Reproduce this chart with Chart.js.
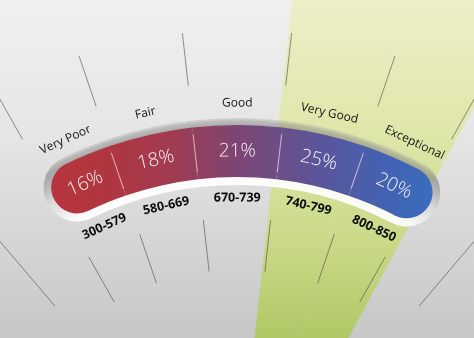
<!DOCTYPE html>
<html>
<head>
<meta charset="utf-8">
<script src="https://cdn.jsdelivr.net/npm/chart.js@4.4.1/dist/chart.umd.min.js"></script>
<style>
html,body{margin:0;padding:0;}
body{width:474px;height:338px;overflow:hidden;position:relative;
  background:linear-gradient(180deg,#f0f0f0 0%,#e5e5e5 40%,#c7c7c7 100%);}
canvas{position:absolute;left:0;top:0;}
</style>
</head>
<body>
<canvas id="wedge" width="474" height="338"></canvas>
<canvas id="rim" width="474" height="338"></canvas>
<canvas id="band" width="474" height="338"></canvas>
<script>
// ---------- data ----------
const categories   = ['Very Poor', 'Fair', 'Good', 'Very Good', 'Exceptional'];
const scoreRanges  = ['300-579', '580-669', '670-739', '740-799', '800-850'];
const sharePercent = [16, 18, 21, 25, 20];
const arcSpanDeg   = [10.8, 12.4, 13.1, 12.4, 12.4];   // angular width of each band segment
const highlighted  = [false, false, false, true, true];

// ---------- layout / style ----------
const LAYOUT = {
  cx: 237, cy: 520,            // centre of the gauge arc
  wedgeCx: 230, wedgeCy: 556,  // apex of the green highlight wedge
  bandStart: -29.7,
  bandOuter: 395, bandInner: 343,
  rimOuter: 402, rimInner: 335, rimExtra: 1.2,
  wedgeStart: 6.4, wedgeSpan: 22.1, wedgeRadius: 640
};
const DECOR = {
  tickAngles: [-40.4, -29.4, -18.8, -6.4, 6.4, 18.8, 29.4, 40.4],
  upper: [437, 490], lower: [250, 302], lowerWide: [281, 390]
};

function makeOptions(extra) {
  return Object.assign({
    responsive: false, animation: false, events: [], devicePixelRatio: 1,
    plugins: { legend: { display: false }, tooltip: { enabled: false } },
    layout: { padding: { left: 0, right: 0, top: 0, bottom: 0 } }
  }, extra);
}

function centreChart(chart, tx, ty) {
  const el = chart.getDatasetMeta(0).data[0];
  const dx = tx - el.x, dy = ty - el.y;
  const p = { left: 0, right: 0, top: 0, bottom: 0 };
  if (dx > 0) p.left = 2 * dx; else p.right = -2 * dx;
  if (dy > 0) p.top = 2 * dy; else p.bottom = -2 * dy;
  chart.options.layout = { padding: p };
  chart.update('none');
}
const rad = d => d * Math.PI / 180;

// ---------- green highlight wedge ----------
const wCanvas = document.getElementById('wedge');
const wGrad = wCanvas.getContext('2d').createLinearGradient(0, 0, 0, 338);
wGrad.addColorStop(0, '#ecefc7');
wGrad.addColorStop(0.4, '#dfe6a9');
wGrad.addColorStop(0.7, '#cbda89');
wGrad.addColorStop(1, '#b0c866');
const wedgeData = arcSpanDeg.filter((v, i) => highlighted[i]);
const wedgeChart = new Chart(wCanvas, {
  type: 'doughnut',
  data: { labels: categories.filter((v, i) => highlighted[i]),
          datasets: [{ data: wedgeData, backgroundColor: wGrad, borderWidth: 0, clip: false }] },
  options: makeOptions({
    rotation: LAYOUT.wedgeStart, circumference: LAYOUT.wedgeSpan,
    radius: LAYOUT.wedgeRadius, cutout: 0
  })
});
centreChart(wedgeChart, LAYOUT.wedgeCx, LAYOUT.wedgeCy);

// ---------- rim behind the band + radial tick lines ----------
const rCanvas = document.getElementById('rim');
const rGrad = rCanvas.getContext('2d').createRadialGradient(LAYOUT.cx, LAYOUT.cy, LAYOUT.rimInner, LAYOUT.cx, LAYOUT.cy, LAYOUT.rimOuter);
rGrad.addColorStop(0, 'rgba(255,255,255,0.95)');
rGrad.addColorStop(0.12, 'rgba(255,255,255,0.88)');
rGrad.addColorStop(0.5, 'rgba(215,215,215,0.7)');
rGrad.addColorStop(0.88, 'rgba(120,120,120,0.55)');
rGrad.addColorStop(0.95, 'rgba(140,140,140,0.5)');
rGrad.addColorStop(1, 'rgba(185,185,185,0.4)');
const bandTotal = arcSpanDeg.reduce((a, b) => a + b, 0);
const tickPlugin = {
  id: 'ticks',
  beforeDatasetsDraw(chart) {
    const el = chart.getDatasetMeta(0).data[0];
    const ctx = chart.ctx;
    ctx.save();
    ctx.strokeStyle = 'rgba(60,60,60,0.55)';
    ctx.lineWidth = 1;
    DECOR.tickAngles.forEach(a => {
      const t = rad(a - 90);
      const ranges = [DECOR.upper, Math.abs(a) > 35 ? DECOR.lowerWide : DECOR.lower];
      ranges.forEach(([r0, r1]) => {
        ctx.beginPath();
        ctx.moveTo(el.x + r0 * Math.cos(t), el.y + r0 * Math.sin(t));
        ctx.lineTo(el.x + r1 * Math.cos(t), el.y + r1 * Math.sin(t));
        ctx.stroke();
      });
    });
    ctx.restore();
  }
};
const rimChart = new Chart(rCanvas, {
  type: 'doughnut',
  data: { labels: ['rim'], datasets: [{ data: [bandTotal], backgroundColor: rGrad, borderWidth: 0,
          borderRadius: Math.floor((LAYOUT.rimOuter - LAYOUT.rimInner) / 2), clip: false }] },
  options: makeOptions({
    rotation: LAYOUT.bandStart - LAYOUT.rimExtra, circumference: bandTotal + 2 * LAYOUT.rimExtra,
    radius: LAYOUT.rimOuter, cutout: (LAYOUT.rimInner / LAYOUT.rimOuter * 100) + '%'
  }),
  plugins: [tickPlugin]
});
centreChart(rimChart, LAYOUT.cx, LAYOUT.cy);

// ---------- coloured band ----------
const bCanvas = document.getElementById('band');
const bGrad = bCanvas.getContext('2d').createLinearGradient(45, 0, 435, 0);
bGrad.addColorStop(0, '#b8343d');
bGrad.addColorStop(0.15, '#b0363f');
bGrad.addColorStop(0.32, '#a23b50');
bGrad.addColorStop(0.5, '#7c4675');
bGrad.addColorStop(0.7, '#5b559a');
bGrad.addColorStop(0.88, '#4263b4');
bGrad.addColorStop(1, '#3a6cbe');
const half = (LAYOUT.bandOuter - LAYOUT.bandInner) / 2;
function radialText(ctx, cx, cy, r, ang, txt, font, color) {
  ctx.save();
  ctx.translate(cx + r * Math.cos(ang), cy + r * Math.sin(ang));
  ctx.rotate(ang + Math.PI / 2);
  ctx.font = font; ctx.fillStyle = color;
  ctx.textAlign = 'center'; ctx.textBaseline = 'middle';
  ctx.fillText(txt, 0, 0);
  ctx.restore();
}
const bandLabels = {
  id: 'bandLabels',
  afterDatasetsDraw(chart) {
    const ctx = chart.ctx;
    chart.getDatasetMeta(0).data.forEach((arc, i) => {
      const p = arc.getProps(['x', 'y', 'startAngle', 'endAngle', 'innerRadius', 'outerRadius'], true);
      const mid = (p.startAngle + p.endAngle) / 2;
      if (i > 0) {
        ctx.save();
        ctx.strokeStyle = 'rgba(255,225,240,0.55)';
        ctx.lineWidth = 1.2;
        const c = Math.cos(p.startAngle), s = Math.sin(p.startAngle);
        ctx.beginPath();
        ctx.moveTo(p.x + (p.innerRadius + 7) * c, p.y + (p.innerRadius + 7) * s);
        ctx.lineTo(p.x + (p.outerRadius - 7) * c, p.y + (p.outerRadius - 7) * s);
        ctx.stroke();
        ctx.restore();
      }
      radialText(ctx, p.x, p.y, (p.innerRadius + p.outerRadius) / 2, mid,
                 sharePercent[i] + '%', '300 19px "Open Sans", Lato, sans-serif', '#fbf3f8');
      radialText(ctx, p.x, p.y, p.outerRadius + 22, mid,
                 categories[i], '12px "Open Sans", Lato, sans-serif', '#151515');
      radialText(ctx, p.x, p.y, p.innerRadius - 21, mid,
                 scoreRanges[i], 'bold 12.5px "Open Sans", Lato, sans-serif', '#0d0d0d');
    });
  }
};
const last = arcSpanDeg.length - 1;
const bandChart = new Chart(bCanvas, {
  type: 'doughnut',
  data: { labels: categories, datasets: [{
    data: arcSpanDeg, backgroundColor: bGrad, borderWidth: 0, clip: false,
    borderRadius: ctx => ctx.dataIndex === 0 ? { outerStart: half, innerStart: half, outerEnd: 0, innerEnd: 0 }
                       : ctx.dataIndex === last ? { outerStart: 0, innerStart: 0, outerEnd: half, innerEnd: half } : 0
  }] },
  options: makeOptions({
    rotation: LAYOUT.bandStart, circumference: bandTotal,
    radius: LAYOUT.bandOuter, cutout: (LAYOUT.bandInner / LAYOUT.bandOuter * 100) + '%'
  }),
  plugins: [bandLabels]
});
centreChart(bandChart, LAYOUT.cx, LAYOUT.cy);
</script>
</body>
</html>
